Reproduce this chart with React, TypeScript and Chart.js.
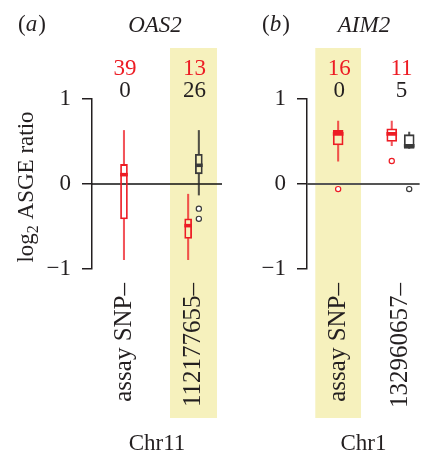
import React, { useEffect, useRef } from 'react';
import { Chart, registerables } from 'chart.js';

Chart.register(...registerables);

// ---------------- data ----------------
const OAS2_CATEGORIES = ['assay SNP–', '112177655–'];
const AIM2_CATEGORIES = ['assay SNP–', '132960657–'];
const Y_TICK_VALUES = [-1, 0, 1];
const Y_TICK_LABELS = ['−1', '0', '1'];

const OAS2_RED_COUNTS = [39, 13];
const OAS2_BLACK_COUNTS = [0, 26];
const AIM2_RED_COUNTS = [16, 11];
const AIM2_BLACK_COUNTS = [0, 5];

// [lower whisker, Q1, median, Q3, upper whisker]
const OAS2_RED_BOXES = [
  [-0.89, -0.41, 0.11, 0.23, 0.63],
  [-0.89, -0.64, -0.49, -0.41, -0.12],
];
const OAS2_BLACK_BOXES = [null, [-0.13, 0.12, 0.22, 0.35, 0.63]];
const OAS2_RED_OUTLIERS = [[], []];
const OAS2_BLACK_OUTLIERS = [[], [-0.29, -0.41]];

const AIM2_RED_BOXES = [
  [0.27, 0.46, 0.59, 0.63, 0.74],
  [0.45, 0.5, 0.59, 0.65, 0.74],
];
const AIM2_BLACK_BOXES = [null, [0.42, 0.42, 0.45, 0.58, 0.61]];
const AIM2_RED_OUTLIERS = [[-0.06], [0.27]];
const AIM2_BLACK_OUTLIERS = [[], [-0.06]];

const OAS2_HIGHLIGHT = 2;
const AIM2_HIGHLIGHT = 1;

// ---------------- style ----------------
const H = 459;
const SERIF = '"Liberation Serif", "Times New Roman", Times, serif';
const FS = 23;
const LABEL_FS = 25;
const INK = '#231f20';
const RED = '#ed1c24';
const RED_WHISKER = 'rgba(237,28,36,0.75)';
const BLACK_BOX = '#3a3a3a';
const BLACK_WHISKER = 'rgba(40,40,40,0.8)';
const BAND = '#f6f1bd';

type Box = number[] | null;
type Panel = {
  id: string;
  left: number;
  width: number;
  letter: string;
  gene: string;
  chr: string;
  categories: string[];
  redCounts: number[];
  blackCounts: number[];
  redBoxes: Box[];
  blackBoxes: Box[];
  redOutliers: number[][];
  blackOutliers: number[][];
  highlight: number;
  xMin: number;
  xMax: number;
  pairOffset: number;
  boxWidth: number;
  yAxisWidth: number;
  padRight: number;
  bandHalf: number;
  showYTitle: boolean;
  zeroColor: string;
  zeroWidth: number;
  letterX: number;
  geneX: number;
};

const PANELS: Panel[] = [
  {
    id: 'a', left: 0, width: 232, letter: 'a', gene: 'OAS2', chr: 'Chr11',
    categories: OAS2_CATEGORIES, redCounts: OAS2_RED_COUNTS, blackCounts: OAS2_BLACK_COUNTS,
    redBoxes: OAS2_RED_BOXES, blackBoxes: OAS2_BLACK_BOXES,
    redOutliers: OAS2_RED_OUTLIERS, blackOutliers: OAS2_BLACK_OUTLIERS,
    highlight: OAS2_HIGHLIGHT,
    xMin: 0.54, xMax: 2.41, pairOffset: 0.077, boxWidth: 7, yAxisWidth: 92, padRight: 10,
    bandHalf: 0.338, showYTitle: true, zeroColor: '#111', zeroWidth: 1.5, letterX: 18, geneX: 155,
  },
  {
    id: 'b', left: 232, width: 193, letter: 'b', gene: 'AIM2', chr: 'Chr1',
    categories: AIM2_CATEGORIES, redCounts: AIM2_RED_COUNTS, blackCounts: AIM2_BLACK_COUNTS,
    redBoxes: AIM2_RED_BOXES, blackBoxes: AIM2_BLACK_BOXES,
    redOutliers: AIM2_RED_OUTLIERS, blackOutliers: AIM2_BLACK_OUTLIERS,
    highlight: AIM2_HIGHLIGHT,
    xMin: 0.5, xMax: 2.31, pairOffset: 0.14, boxWidth: 10, yAxisWidth: 75, padRight: 2,
    bandHalf: 0.367, showYTitle: false, zeroColor: '#555', zeroWidth: 2, letterX: 262, geneX: 364,
  },
];

function xFor(p: Panel, i: number, series: 'red' | 'black') {
  const both = p.redBoxes[i] && p.blackBoxes[i];
  const c = i + 1;
  if (!both) return c;
  return series === 'red' ? c - p.pairOffset : c + p.pairOffset;
}

function seriesDatasets(p: Panel, series: 'red' | 'black') {
  const boxes = series === 'red' ? p.redBoxes : p.blackBoxes;
  const outs = series === 'red' ? p.redOutliers : p.blackOutliers;
  const color = series === 'red' ? RED : BLACK_BOX;
  const wColor = series === 'red' ? RED_WHISKER : BLACK_WHISKER;
  const whiskers: any[] = [];
  const bodies: any[] = [];
  const medians: any[] = [];
  const points: any[] = [];
  boxes.forEach((b, i) => {
    const x = xFor(p, i, series);
    if (b) {
      const [lo, q1, med, q3, hi] = b;
      whiskers.push({ x, y: [q3, hi] });
      whiskers.push({ x, y: [lo, q1] });
      bodies.push({ x, y: [q1, q3] });
      medians.push({ x, y: [med - 0.017, med + 0.017] });
    }
    (outs[i] || []).forEach((v) => points.push({ x, y: v }));
  });
  return [
    {
      type: 'bar', data: whiskers, backgroundColor: wColor, borderWidth: 0,
      barThickness: 1.4, grouped: false, order: 4,
    },
    {
      type: 'bar', data: bodies, backgroundColor: 'rgba(255,255,255,0)', borderColor: color,
      borderWidth: 1.1, borderSkipped: false, barThickness: p.boxWidth, grouped: false, order: 3,
    },
    {
      type: 'bar', data: medians, backgroundColor: color, borderWidth: 0,
      barThickness: p.boxWidth, grouped: false, order: 2,
    },
    {
      type: 'scatter', data: points, pointRadius: 2.6, pointBorderWidth: 1.2,
      pointBackgroundColor: '#ffffff', pointBorderColor: color, showLine: false, order: 1,
    },
  ];
}

function decorPlugin(p: Panel) {
  return {
    id: 'decor_' + p.id,
    beforeDraw(chart: any) {
      const ctx = chart.ctx;
      const xs = chart.scales.x;
      const l = xs.getPixelForValue(p.highlight - p.bandHalf);
      const r = xs.getPixelForValue(p.highlight + p.bandHalf);
      ctx.save();
      ctx.fillStyle = BAND;
      ctx.fillRect(l, 48, r - l, 418 - 48);
      ctx.restore();
    },
    afterDraw(chart: any) {
      const ctx = chart.ctx;
      const xs = chart.scales.x;
      ctx.save();
      ctx.textBaseline = 'alphabetic';
      ctx.fillStyle = INK;
      const up = `${FS}px ${SERIF}`;
      const it = `italic ${FS}px ${SERIF}`;
      let lx = p.letterX - p.left;
      ctx.textAlign = 'left';
      ctx.font = up;
      ctx.fillText('(', lx, 31);
      lx += ctx.measureText('(').width;
      ctx.font = it;
      ctx.fillText(p.letter, lx, 31);
      lx += ctx.measureText(p.letter).width + 1;
      ctx.font = up;
      ctx.fillText(')', lx, 31);
      ctx.font = it;
      ctx.textAlign = 'center';
      ctx.fillText(p.gene, p.geneX - p.left, 32);
      ctx.font = up;
      p.categories.forEach((_, i) => {
        const px = xs.getPixelForValue(i + 1) + 1;
        ctx.fillStyle = RED;
        ctx.fillText(String(p.redCounts[i]), px, 75);
        ctx.fillStyle = INK;
        ctx.fillText(String(p.blackCounts[i]), px, 97);
      });
      if (p.showYTitle) {
        const ys = chart.scales.y;
        const cy = (ys.top + ys.bottom) / 2 + 3;
        const big = `${FS}px ${SERIF}`;
        const small = `${Math.round(FS * 0.68)}px ${SERIF}`;
        ctx.font = big;
        const w1 = ctx.measureText('log').width;
        const w3 = ctx.measureText(' ASGE ratio').width;
        ctx.font = small;
        const w2 = ctx.measureText('2').width;
        const total = w1 + w2 + w3;
        ctx.translate(33, cy);
        ctx.rotate(-Math.PI / 2);
        ctx.textAlign = 'left';
        ctx.fillStyle = INK;
        let tx = -total / 2;
        ctx.font = big;
        ctx.fillText('log', tx, 0);
        tx += w1;
        ctx.font = small;
        ctx.fillText('2', tx, 5);
        tx += w2;
        ctx.font = big;
        ctx.fillText(' ASGE ratio', tx, 0);
      }
      ctx.restore();
    },
  };
}

function makeConfig(p: Panel): any {
  const datasets: any[] = [
    {
      type: 'line',
      data: [{ x: p.xMin, y: 0 }, { x: p.xMax, y: 0 }],
      borderColor: p.zeroColor,
      borderWidth: p.zeroWidth,
      pointRadius: 0,
      order: 10,
    },
    ...seriesDatasets(p, 'red'),
    ...seriesDatasets(p, 'black'),
  ];
  return {
    type: 'bar',
    data: { datasets },
    options: {
      responsive: false,
      animation: false,
      devicePixelRatio: 1,
      layout: { padding: { top: 99, right: p.padRight, bottom: 0, left: 0 } },
      plugins: { legend: { display: false }, tooltip: { enabled: false } },
      scales: {
        x: {
          type: 'linear',
          min: p.xMin,
          max: p.xMax,
          offset: false,
          afterBuildTicks: (s: any) => {
            s.ticks = p.categories.map((_, i) => ({ value: i + 1 }));
          },
          afterFit: (s: any) => {
            s.height = H - 269;
            s.paddingLeft = 0;
            s.paddingRight = 0;
          },
          border: { display: false },
          grid: { display: false, drawTicks: false },
          ticks: {
            autoSkip: false,
            minRotation: 90,
            maxRotation: 90,
            padding: 14,
            color: INK,
            font: { family: SERIF, size: LABEL_FS },
            callback: (v: number, i: number) => p.categories[i],
          },
          title: {
            display: true,
            text: p.chr,
            color: INK,
            font: { family: SERIF, size: FS },
            padding: { top: 0, bottom: 1 },
          },
        },
        y: {
          type: 'linear',
          min: -1,
          max: 1,
          afterBuildTicks: (s: any) => {
            s.ticks = Y_TICK_VALUES.map((v) => ({ value: v }));
          },
          afterFit: (s: any) => {
            s.width = p.yAxisWidth;
          },
          border: { display: true, color: INK, width: 1.5 },
          grid: {
            display: true,
            drawOnChartArea: false,
            drawTicks: true,
            tickLength: 10,
            color: INK,
            lineWidth: 1.5,
          },
          ticks: {
            padding: 11,
            color: INK,
            font: { family: SERIF, size: FS },
            callback: (v: number) => Y_TICK_LABELS[Y_TICK_VALUES.indexOf(v)],
          },
        },
      },
    },
    plugins: [decorPlugin(p)],
  };
}

function PanelChart({ p }: { p: Panel }) {
  const ref = useRef<HTMLCanvasElement>(null);
  useEffect(() => {
    const chart = new Chart(ref.current as HTMLCanvasElement, makeConfig(p));
    return () => chart.destroy();
  }, [p]);
  return (
    <canvas
      ref={ref}
      width={p.width}
      height={H}
      style={{ position: 'absolute', left: p.left, top: 0, width: p.width, height: H }}
    />
  );
}

export default function App() {
  return (
    <div style={{ position: 'absolute', left: 0, top: 0, width: 425, height: H, background: '#fff' }}>
      {PANELS.map((p) => (
        <PanelChart key={p.id} p={p} />
      ))}
    </div>
  );
}
